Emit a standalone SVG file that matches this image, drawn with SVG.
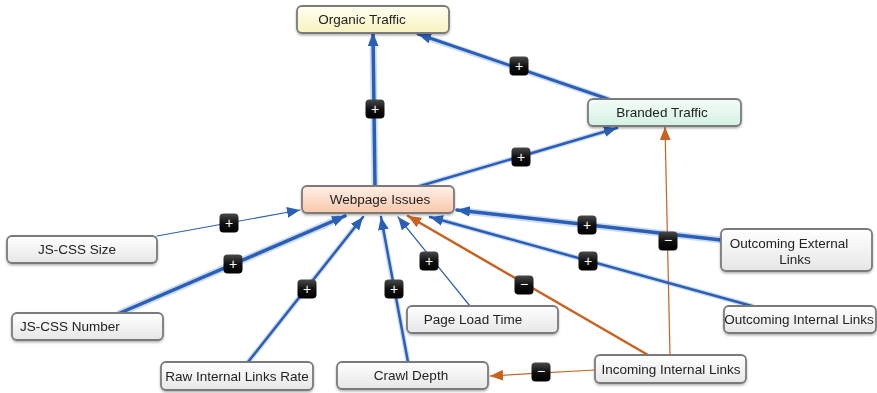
<svg xmlns="http://www.w3.org/2000/svg" width="877" height="393" viewBox="0 0 877 393">
  <style>
    .node rect { stroke: #7a7a7a; stroke-width: 1.8; }
    .node text { font-family: "Liberation Sans", Arial, sans-serif; font-size: 13.5px; fill: #222; text-anchor: middle; dominant-baseline: central; }
    .blue { stroke: #2b5fb6; fill: none; stroke-linecap: round; }
    .halo { stroke: #a9c4ec; fill: none; opacity: 0.6; stroke-linecap: round; }
    .orange { stroke: #c9611f; fill: none; stroke-linecap: round; }
    .badge rect { fill: url(#badgeFill); }
    .badge text { font-family: "Liberation Sans", Arial, sans-serif; font-size: 14px; fill: #fff; text-anchor: middle; dominant-baseline: central; }
  </style>
  <defs>
    <linearGradient id="grey" x1="0" y1="0" x2="0" y2="1">
      <stop offset="0" stop-color="#ffffff"/>
      <stop offset="1" stop-color="#e6e6e6"/>
    </linearGradient>
    <linearGradient id="yellow" x1="0" y1="0" x2="0" y2="1">
      <stop offset="0" stop-color="#fffff2"/>
      <stop offset="1" stop-color="#f6f2bd"/>
    </linearGradient>
    <linearGradient id="mint" x1="0" y1="0" x2="0" y2="1">
      <stop offset="0" stop-color="#f4fcf8"/>
      <stop offset="1" stop-color="#d3f1e3"/>
    </linearGradient>
    <linearGradient id="peach" x1="0" y1="0" x2="0" y2="1">
      <stop offset="0" stop-color="#fff0e8"/>
      <stop offset="1" stop-color="#f8c7aa"/>
    </linearGradient>
    <linearGradient id="badgeFill" x1="0" y1="0" x2="0" y2="1">
      <stop offset="0" stop-color="#4a4a4a"/>
      <stop offset="0.5" stop-color="#111"/>
      <stop offset="1" stop-color="#000"/>
    </linearGradient>
    <filter id="shadow" x="-10%" y="-20%" width="120%" height="150%">
      <feDropShadow dx="0" dy="1.5" stdDeviation="1.2" flood-color="#000" flood-opacity="0.3"/>
    </filter>
    <marker id="arrowBlue" viewBox="0 0 12 10" refX="12" refY="5" markerUnits="userSpaceOnUse" markerWidth="13" markerHeight="11" orient="auto">
      <path d="M0,0 L12,5 L0,10 z" fill="#2b5fb6"/>
    </marker>
    <marker id="arrowOrange" viewBox="0 0 12 10" refX="12" refY="5" markerUnits="userSpaceOnUse" markerWidth="13" markerHeight="11" orient="auto">
      <path d="M0,0 L12,5 L0,10 z" fill="#c9611f"/>
    </marker>
  </defs>

  <!-- connectors -->
  <g id="connectors">
    <!-- soft glow under the blue links -->
    <g class="halo">
      <line x1="375" y1="186" x2="373" y2="40" stroke-width="7"/>
      <line x1="608" y1="99" x2="425" y2="37" stroke-width="6"/>
      <line x1="420" y1="186" x2="610" y2="130" stroke-width="5"/>
      <line x1="120" y1="313" x2="338" y2="219" stroke-width="7"/>
      <line x1="248" y1="362" x2="358" y2="223" stroke-width="5"/>
      <line x1="408" y1="362" x2="382" y2="224" stroke-width="5"/>
      <line x1="752" y1="306" x2="437" y2="219" stroke-width="5"/>
      <line x1="721" y1="240" x2="464" y2="211" stroke-width="7"/>
    </g>
    <line id="e-webpage-organic" class="blue" x1="375" y1="186" x2="373" y2="33" stroke-width="3.5" marker-end="url(#arrowBlue)"/>
    <line id="e-branded-organic" class="blue" x1="608" y1="99" x2="418" y2="34" stroke-width="3" marker-end="url(#arrowBlue)"/>
    <line id="e-webpage-branded" class="blue" x1="420" y1="186" x2="617" y2="128" stroke-width="2.5" marker-end="url(#arrowBlue)"/>
    <line id="e-incoming-branded" class="orange" x1="670" y1="355" x2="665" y2="127" stroke-width="1.2" marker-end="url(#arrowOrange)"/>
    <line id="e-jssize-webpage" class="blue" x1="157" y1="236" x2="300" y2="210" stroke-width="1.2" marker-end="url(#arrowBlue)"/>
    <line id="e-jsnum-webpage" class="blue" x1="120" y1="313" x2="345" y2="216" stroke-width="3.5" marker-end="url(#arrowBlue)"/>
    <line id="e-raw-webpage" class="blue" x1="248" y1="362" x2="363" y2="217" stroke-width="2.5" marker-end="url(#arrowBlue)"/>
    <line id="e-crawl-webpage" class="blue" x1="408" y1="362" x2="381" y2="217" stroke-width="2.5" marker-end="url(#arrowBlue)"/>
    <line id="e-pageload-webpage" class="blue" x1="470" y1="306" x2="398" y2="217" stroke-width="1.2" marker-end="url(#arrowBlue)"/>
    <line id="e-incoming-webpage" class="orange" x1="648" y1="355" x2="408" y2="216" stroke-width="2.5" marker-end="url(#arrowOrange)"/>
    <line id="e-outint-webpage" class="blue" x1="752" y1="306" x2="430" y2="217" stroke-width="2.5" marker-end="url(#arrowBlue)"/>
    <line id="e-outext-webpage" class="blue" x1="721" y1="240" x2="457" y2="210" stroke-width="3.5" marker-end="url(#arrowBlue)"/>
    <line id="e-incoming-crawl" class="orange" x1="595" y1="370" x2="490" y2="376" stroke-width="1.2" marker-end="url(#arrowOrange)"/>

    <!-- polarity badges -->
    <g class="badge">
      <g transform="translate(375,109)"><rect x="-9.5" y="-9.5" width="19" height="19" rx="4"/><text y="-0.5">+</text></g>
      <g transform="translate(519,66)"><rect x="-9.5" y="-9.5" width="19" height="19" rx="4"/><text y="-0.5">+</text></g>
      <g transform="translate(521,157)"><rect x="-9.5" y="-9.5" width="19" height="19" rx="4"/><text y="-0.5">+</text></g>
      <g transform="translate(668,241)"><rect x="-9.5" y="-9.5" width="19" height="19" rx="4"/><text y="-1">−</text></g>
      <g transform="translate(229,223)"><rect x="-9.5" y="-9.5" width="19" height="19" rx="4"/><text y="-0.5">+</text></g>
      <g transform="translate(233,264)"><rect x="-9.5" y="-9.5" width="19" height="19" rx="4"/><text y="-0.5">+</text></g>
      <g transform="translate(307,289)"><rect x="-9.5" y="-9.5" width="19" height="19" rx="4"/><text y="-0.5">+</text></g>
      <g transform="translate(394,289)"><rect x="-9.5" y="-9.5" width="19" height="19" rx="4"/><text y="-0.5">+</text></g>
      <g transform="translate(429,261)"><rect x="-9.5" y="-9.5" width="19" height="19" rx="4"/><text y="-0.5">+</text></g>
      <g transform="translate(524,285)"><rect x="-9.5" y="-9.5" width="19" height="19" rx="4"/><text y="-1">−</text></g>
      <g transform="translate(588,261)"><rect x="-9.5" y="-9.5" width="19" height="19" rx="4"/><text y="-0.5">+</text></g>
      <g transform="translate(587,225)"><rect x="-9.5" y="-9.5" width="19" height="19" rx="4"/><text y="-0.5">+</text></g>
      <g transform="translate(541,372)"><rect x="-9.5" y="-9.5" width="19" height="19" rx="4"/><text y="-1">−</text></g>
    </g>
  </g>

  <!-- nodes -->
  <g id="organic-traffic" class="node" filter="url(#shadow)">
    <rect x="297" y="6" width="152" height="27" rx="5" fill="url(#yellow)"/>
    <text x="362" y="19.5">Organic Traffic</text>
  </g>
  <g id="branded-traffic" class="node" filter="url(#shadow)">
    <rect x="588" y="99" width="153" height="27" rx="5" fill="url(#mint)"/>
    <text x="662" y="112.5">Branded Traffic</text>
  </g>
  <g id="webpage-issues" class="node" filter="url(#shadow)">
    <rect x="302" y="186" width="152" height="27" rx="5" fill="url(#peach)"/>
    <text x="380" y="199.5">Webpage Issues</text>
  </g>
  <g id="js-css-size" class="node" filter="url(#shadow)">
    <rect x="7" y="236" width="150" height="27" rx="5" fill="url(#grey)"/>
    <text x="77" y="249.5">JS-CSS Size</text>
  </g>
  <g id="js-css-number" class="node" filter="url(#shadow)">
    <rect x="12" y="313" width="151" height="27" rx="5" fill="url(#grey)"/>
    <text x="20" y="326.5" style="text-anchor:start">JS-CSS Number</text>
  </g>
  <g id="raw-internal-links-rate" class="node" filter="url(#shadow)">
    <rect x="161" y="362" width="152" height="28" rx="5" fill="url(#grey)"/>
    <text x="237" y="376">Raw Internal Links Rate</text>
  </g>
  <g id="crawl-depth" class="node" filter="url(#shadow)">
    <rect x="337" y="362" width="151" height="27" rx="5" fill="url(#grey)"/>
    <text x="411" y="375.5">Crawl Depth</text>
  </g>
  <g id="page-load-time" class="node" filter="url(#shadow)">
    <rect x="407" y="306" width="151" height="27" rx="5" fill="url(#grey)"/>
    <text x="473" y="319.5">Page Load Time</text>
  </g>
  <g id="incoming-internal-links" class="node" filter="url(#shadow)">
    <rect x="595" y="355" width="151" height="28" rx="5" fill="url(#grey)"/>
    <text x="671" y="369">Incoming Internal Links</text>
  </g>
  <g id="outcoming-internal-links" class="node" filter="url(#shadow)">
    <rect x="724" y="306" width="152" height="27" rx="5" fill="url(#grey)"/>
    <text x="799" y="319.5">Outcoming Internal Links</text>
  </g>
  <g id="outcoming-external-links" class="node" filter="url(#shadow)">
    <rect x="721" y="229" width="151" height="42" rx="5" fill="url(#grey)"/>
    <text x="789" y="243">Outcoming External</text>
    <text x="795" y="259">Links</text>
  </g>
</svg>
